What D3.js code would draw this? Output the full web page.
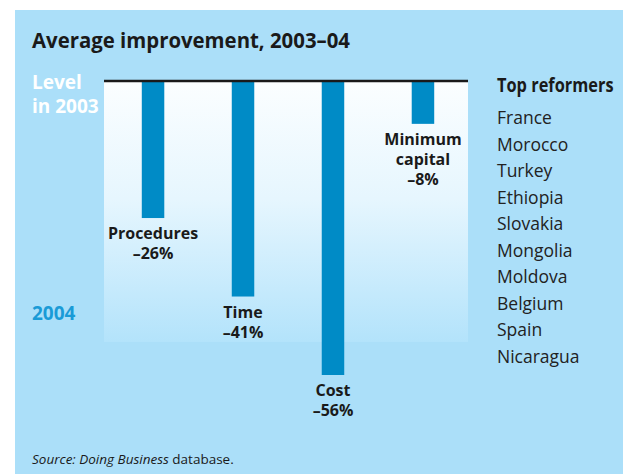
<!DOCTYPE html>
<html>
<head>
<meta charset="utf-8">
<script src="https://cdn.jsdelivr.net/npm/d3@7"></script>
<style>
  body { margin: 0; background: #fff; }
  svg { display: block; }
</style>
</head>
<body>
<div id="chart"></div>
<script>
const measures = ['Procedures', 'Time', 'Cost', 'Minimum capital'];
const changes = [-26, -41, -56, -8];
const labelLines = [['Procedures'], ['Time'], ['Cost'], ['Minimum', 'capital']];
const reformers = ['France', 'Morocco', 'Turkey', 'Ethiopia', 'Slovakia', 'Mongolia', 'Moldova', 'Belgium', 'Spain', 'Nicaragua'];

const W = 623, H = 474;
const font = '"Open Sans", "Noto Sans", sans-serif';
const panelBg = '#abdff9';
const barColor = '#008bc6';

const svg = d3.select('#chart').append('svg')
  .attr('width', W).attr('height', H)
  .style('font-family', font);

const defs = svg.append('defs');
const grad = defs.append('linearGradient')
  .attr('id', 'fade').attr('x1', 0).attr('y1', 0).attr('x2', 0).attr('y2', 1);
grad.append('stop').attr('offset', '0%').attr('stop-color', '#fbfeff');
grad.append('stop').attr('offset', '45%').attr('stop-color', '#e6f6fe');
grad.append('stop').attr('offset', '100%').attr('stop-color', '#b3e3fb');

// panel
svg.append('rect')
  .attr('x', 15).attr('y', 10).attr('width', W - 15).attr('height', H - 10)
  .attr('fill', panelBg);

svg.append('text')
  .attr('x', 32).attr('y', 48)
  .attr('font-size', 20.5).attr('font-weight', 'bold').attr('fill', '#1a1a1a')
  .attr('textLength', 318).attr('lengthAdjust', 'spacingAndGlyphs')
  .text('Average improvement, 2003\u201304');

// plot area
const plot = {left: 104, right: 468, top: 82, bottom: 342};

svg.append('rect')
  .attr('x', plot.left).attr('y', plot.top)
  .attr('width', plot.right - plot.left).attr('height', plot.bottom - plot.top)
  .attr('fill', 'url(#fade)');

const x = d3.scaleBand()
  .domain(measures)
  .range([plot.left, plot.right + 4])
  .paddingInner(0.75)
  .paddingOuter(0.42);

const y = d3.scaleLinear()
  .domain([0, -56])
  .range([plot.top, 375]);

svg.selectAll('.bar')
  .data(measures)
  .enter().append('rect')
    .attr('class', 'bar')
    .attr('x', d => x(d))
    .attr('y', y(0))
    .attr('width', x.bandwidth())
    .attr('height', (d, i) => y(changes[i]) - y(0))
    .attr('fill', barColor);

// baseline
svg.append('line')
  .attr('x1', plot.left).attr('x2', plot.right)
  .attr('y1', 81).attr('y2', 81)
  .attr('stroke', '#1a1a1a').attr('stroke-width', 2.5);

// bar labels
const lbl = svg.selectAll('.bar-label')
  .data(measures)
  .enter().append('text')
    .attr('class', 'bar-label')
    .attr('text-anchor', 'middle')
    .attr('font-size', 16).attr('font-weight', 'bold').attr('fill', '#1a1a1a')
    .attr('transform', (d, i) => `translate(${x(d) + x.bandwidth() / 2},${y(changes[i]) + 21})`);

lbl.each(function(d, i) {
  const t = d3.select(this);
  const lines = labelLines[i].concat(['\u2013' + Math.abs(changes[i]) + '%']);
  lines.forEach((s, k) => {
    t.append('tspan').attr('x', 0).attr('y', k * 20).text(s);
  });
});

// level labels
svg.append('text')
  .attr('x', 32).attr('y', 89)
  .attr('font-size', 19).attr('font-weight', 'bold').attr('fill', '#fff')
  .selectAll('tspan').data(['Level', 'in 2003']).enter().append('tspan')
    .attr('x', 32).attr('dy', (d, i) => i ? 24 : 0).text(d => d);

svg.append('text')
  .attr('x', 32).attr('y', 320)
  .attr('font-size', 19).attr('font-weight', 'bold').attr('fill', '#1a9bd7')
  .text('2004');

// reformers list
svg.append('text')
  .attr('transform', 'translate(497,92) scale(0.84,1)')
  .attr('font-size', 19.5).attr('font-weight', 'bold').attr('fill', '#1a1a1a')
  .text('Top reformers');

const ly = d3.scalePoint().domain(reformers).range([124, 363]);
svg.selectAll('.reformer')
  .data(reformers)
  .enter().append('text')
    .attr('class', 'reformer')
    .attr('x', 497).attr('y', d => ly(d))
    .attr('font-size', 17.5).attr('fill', '#222')
    .text(d => d);

// source
const src = svg.append('text')
  .attr('x', 32).attr('y', 464)
  .attr('font-size', 13.5).attr('fill', '#1a1a1a');
src.append('tspan').attr('font-style', 'italic').text('Source: Doing Business');
src.append('tspan').text(' database.');
</script>
</body>
</html>
